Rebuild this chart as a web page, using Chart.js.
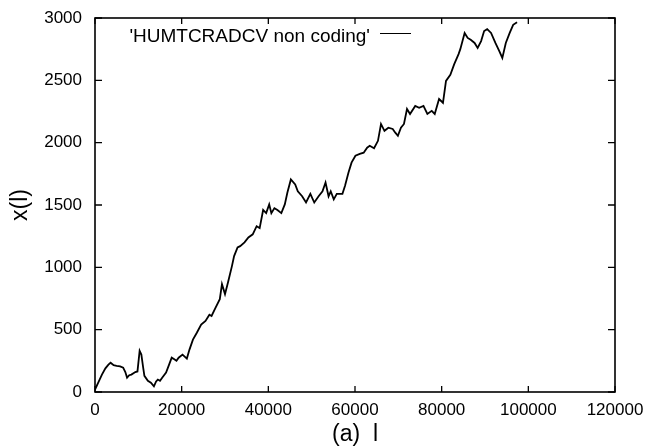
<!DOCTYPE html>
<html lang="en">
<head>
  <meta charset="UTF-8">
  <title>HUMTCRADCV non coding</title>
  <script src="https://cdn.jsdelivr.net/npm/chart.js"></script>
  <style>
    html, body { margin: 0; padding: 0; background: #fff; }
  </style>
</head>
<body>
  <canvas id="walkChart" width="645" height="448"></canvas>

  <script>
    // position l along the sequence
    const lPos = [0, 800, 1600, 2400, 3100, 3600, 4300, 5000, 5800, 6500,
      7000, 7400, 7900, 8400, 9300, 9800, 10300, 10700, 11100, 11400,
      12200, 12900, 13600, 14100, 14500, 15000, 15500, 16400, 17100, 17700,
      18300, 18800, 19300, 20200, 21200, 21800, 22600, 23500, 24500, 25500,
      26400, 26900, 27800, 28800, 29300, 30000, 30700, 31600, 32100, 32900,
      33500, 34500, 35400, 36400, 37300, 38000, 38800, 39500, 40200, 40700,
      41400, 42100, 43000, 43800, 44400, 45200, 46200, 46800, 47800, 48700,
      49700, 50600, 51600, 52500, 53200, 53900, 54400, 55100, 55800, 57100,
      57700, 58500, 59200, 60100, 61100, 62000, 62800, 63400, 64400, 65300,
      66000, 66800, 67700, 68700, 69300, 69900, 70600, 71300, 72000, 72700,
      73900, 74800, 75800, 76700, 77700, 78400, 79400, 80300, 81000, 82000,
      82900, 83900, 84300, 85300, 86000, 86700, 87600, 88300, 89100, 89800,
      90500, 91400, 92400, 93300, 94000, 94800, 95700, 96500, 97400];

    // walk displacement x(l)
    const xWalk = [20, 80, 140, 190, 220, 235, 215, 210, 205, 195,
      160, 115, 135, 140, 160, 165, 330, 300, 200, 130,
      90, 75, 45, 85, 100, 90, 115, 155, 220, 275,
      262, 250, 275, 300, 268, 340, 420, 475, 540, 570,
      620, 610, 675, 745, 865, 785, 880, 1010, 1090, 1160,
      1170, 1200, 1240, 1265, 1330, 1315, 1460, 1435, 1505, 1435,
      1475, 1460, 1435, 1505, 1600, 1705, 1665, 1610, 1570, 1520,
      1590, 1520, 1570, 1610, 1680, 1570, 1610, 1545, 1590, 1590,
      1655, 1760, 1840, 1895, 1910, 1920, 1960, 1975, 1955, 2015,
      2150, 2095, 2120, 2110, 2080, 2055, 2120, 2150, 2270, 2230,
      2295, 2280, 2295, 2230, 2255, 2230, 2350, 2320, 2495, 2545,
      2630, 2710, 2750, 2880, 2840, 2825, 2800, 2760, 2815, 2895,
      2910, 2880, 2800, 2735, 2680, 2800, 2880, 2945, 2965];

    const xTicks = [0, 20000, 40000, 60000, 80000, 100000, 120000];
    const yTicks = [0, 500, 1000, 1500, 2000, 2500, 3000];
    const seriesName = "'HUMTCRADCV non coding'";

    const points = lPos.map((l, i) => ({ x: l, y: xWalk[i] }));

    // gnuplot style frame with inward ticks and the key in the top left
    const framePlugin = {
      id: 'frame',
      afterDraw(chart) {
        const ctx = chart.ctx;
        const a = chart.chartArea;
        const xs = chart.scales.x;
        const ys = chart.scales.y;
        ctx.save();
        ctx.strokeStyle = '#000';
        ctx.lineWidth = 1.6;
        ctx.strokeRect(a.left, a.top, a.right - a.left, a.bottom - a.top);
        ctx.lineWidth = 1.3;
        ctx.beginPath();
        xTicks.forEach(v => {
          const px = xs.getPixelForValue(v);
          ctx.moveTo(px, a.bottom); ctx.lineTo(px, a.bottom - 6);
          ctx.moveTo(px, a.top); ctx.lineTo(px, a.top + 6);
        });
        yTicks.forEach(v => {
          const py = ys.getPixelForValue(v);
          ctx.moveTo(a.left, py); ctx.lineTo(a.left + 7, py);
          ctx.moveTo(a.right, py); ctx.lineTo(a.right - 7, py);
        });
        ctx.stroke();

        // key
        ctx.font = '19px "Liberation Sans", Arial, sans-serif';
        ctx.fillStyle = '#000';
        ctx.textAlign = 'right';
        ctx.textBaseline = 'middle';
        ctx.fillText(seriesName, 370, 37);
        ctx.lineWidth = 1;
        ctx.beginPath();
        ctx.moveTo(380, 33.5);
        ctx.lineTo(411, 33.5);
        ctx.stroke();
        ctx.restore();
      }
    };

    const config = {
      type: 'line',
      data: {
        datasets: [{
          label: seriesName,
          data: points,
          borderColor: '#000',
          borderWidth: 1.8,
          pointRadius: 0,
          tension: 0,
          fill: false
        }]
      },
      options: {
        responsive: false,
        animation: false,
        layout: { padding: { top: 18, right: 30, bottom: 0, left: 0 } },
        plugins: {
          legend: { display: false },
          tooltip: { enabled: false }
        },
        scales: {
          x: {
            type: 'linear',
            min: 0,
            max: 120000,
            afterBuildTicks: s => { s.ticks = xTicks.map(v => ({ value: v })); },
            afterFit: s => { s.height = 56; s.paddingLeft = 0; s.paddingRight = 0; },
            grid: { display: false, drawTicks: false },
            border: { display: false },
            ticks: {
              color: '#000',
              padding: 8,
              maxRotation: 0,
              autoSkip: false,
              font: { family: '"Liberation Sans", Arial, sans-serif', size: 17 },
              callback: v => String(v)
            },
            title: {
              display: true,
              text: '(a)  l',
              color: '#000',
              padding: { top: 0, bottom: 0 },
              font: { family: '"Liberation Sans", Arial, sans-serif', size: 23 }
            }
          },
          y: {
            min: 0,
            max: 3000,
            afterBuildTicks: s => { s.ticks = yTicks.map(v => ({ value: v })); },
            afterFit: s => { s.width = 95; s.paddingTop = 0; s.paddingBottom = 0; },
            grid: { display: false, drawTicks: false },
            border: { display: false },
            ticks: {
              color: '#000',
              padding: 13,
              autoSkip: false,
              font: { family: '"Liberation Sans", Arial, sans-serif', size: 17 },
              callback: v => String(v)
            },
            title: {
              display: true,
              text: 'x(l)',
              color: '#000',
              padding: { top: 7, bottom: 0 },
              font: { family: '"Liberation Sans", Arial, sans-serif', size: 23 }
            }
          }
        }
      },
      plugins: [framePlugin]
    };

    new Chart(document.getElementById('walkChart'), config);
  </script>
</body>
</html>
